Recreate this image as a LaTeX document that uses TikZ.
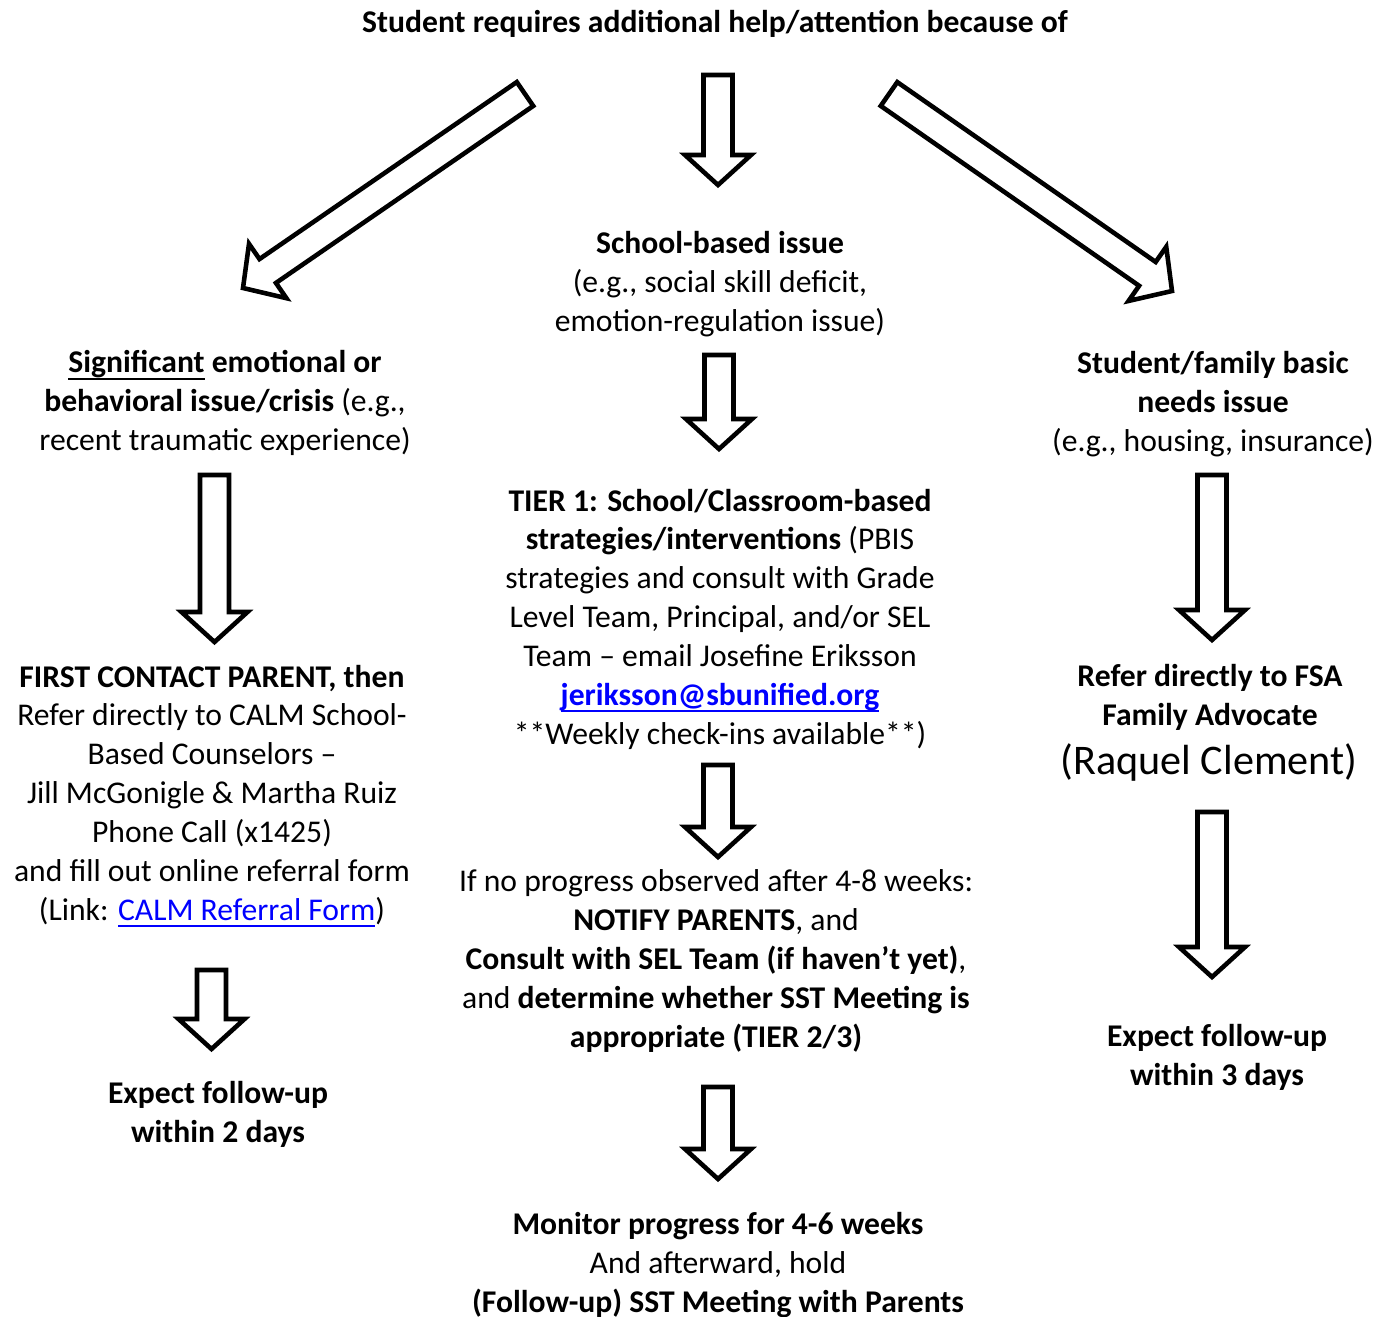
\documentclass[tikz,border=0pt]{standalone}
\usepackage{fontspec}
\setmainfont{Carlito}
\usetikzlibrary{calc}

\newcommand{\undl}[1]{\setbox0\hbox{#1}\rlap{\rule[-4pt]{\wd0}{1.1pt}}\box0\relax}
\newcommand{\hollowarrow}[2]{%
	\coordinate (s) at ($(#2)!0.6cm!(#1)$);
	\draw[hollow] ($(#1)!0.29cm!90:(#2)$) -- ($(s)!0.29cm!90:(#2)$) -- ($(s)!0.66cm!90:(#2)$) -- (#2)
		-- ($(s)!0.66cm!-90:(#2)$) -- ($(s)!0.29cm!-90:(#2)$) -- ($(#1)!0.29cm!-90:(#2)$) -- cycle;}

\begin{document}
\begin{tikzpicture}[x=0.02cm,y=-0.02cm,
	txt/.style={align=center,inner sep=0pt,font=\fontsize{18}{22.1}\selectfont},
	hollow/.style={draw=black,line width=2.6pt,fill=white,line join=miter}]
	\useasboundingbox (0,0) rectangle (1388,1316);

	\node[txt] (top) at (715,24) {\textbf{Student requires additional help/attention because of}};

	\node[txt] (school) at (720,284) {\textbf{School-based issue}\\(e.g., social skill deficit,\\emotion-regulation issue)};
	\node[txt] (tier1) at (720,619) {\textbf{TIER 1: School/Classroom-based}\\\textbf{strategies/interventions} (PBIS\\strategies and consult with Grade\\Level Team, Principal, and/or SEL\\Team – email Josefine Eriksson\\\textcolor{blue}{\textbf{\undl{jeriksson@sbunified.org}}}\\**Weekly check-ins available**)};
	\node[txt] (noprog) at (716,961) {If no progress observed after 4-8 weeks:\\\textbf{NOTIFY PARENTS}, and\\\textbf{Consult with SEL Team (if haven’t yet)},\\and \textbf{determine whether SST Meeting is}\\\textbf{appropriate (TIER 2/3)}};
	\node[txt] (monitor) at (718,1265) {\textbf{Monitor progress for 4-6 weeks}\\And afterward, hold\\\textbf{(Follow-up) SST Meeting with Parents}};

	\node[txt] (crisis) at (225,403) {\textbf{\undl{Significant} emotional or}\\\textbf{behavioral issue/crisis} (e.g.,\\recent traumatic experience)};
	\node[txt] (calm) at (212,796) {\textbf{FIRST CONTACT PARENT, then}\\Refer directly to CALM School-\\Based Counselors –\\Jill McGonigle \& Martha Ruiz\\Phone Call (x1425)\\and fill out online referral form\\(Link: \textcolor{blue}{\undl{CALM Referral Form}})};
	\node[txt] (two) at (218,1114) {\textbf{Expect follow-up}\\\textbf{within 2 days}};

	\node[txt] (needs) at (1213,404) {\textbf{Student/family basic}\\\textbf{needs issue}\\(e.g., housing, insurance)};
	\node[txt] (fsa) at (1210,697) {\textbf{Refer directly to FSA}\\\textbf{Family Advocate}};
	\node[txt,font=\fontsize{24}{29}\selectfont] (raquel) at (1209,762) {(Raquel Clement)};
	\node[txt] (three) at (1217,1057) {\textbf{Expect follow-up}\\\textbf{within 3 days}};

	% block arrows
	\coordinate (a1) at (525,94);   \coordinate (b1) at (243,288);
	\coordinate (a2) at (718,75);   \coordinate (b2) at (718,185);
	\coordinate (a3) at (889,94);   \coordinate (b3) at (1172,291);
	\coordinate (a4) at (719,355);  \coordinate (b4) at (719,449);
	\coordinate (a5) at (718,765);  \coordinate (b5) at (718,857);
	\coordinate (a6) at (718,1087); \coordinate (b6) at (718,1179);
	\coordinate (a7) at (214.5,475);\coordinate (b7) at (214.5,642);
	\coordinate (a8) at (211.5,970);\coordinate (b8) at (211.5,1049);
	\coordinate (a9) at (1212,475); \coordinate (b9) at (1212,640);
	\coordinate (a10) at (1212,812);\coordinate (b10) at (1212,977);

	\hollowarrow{a1}{b1}
	\hollowarrow{a2}{b2}
	\hollowarrow{a3}{b3}
	\hollowarrow{a4}{b4}
	\hollowarrow{a5}{b5}
	\hollowarrow{a6}{b6}
	\hollowarrow{a7}{b7}
	\hollowarrow{a8}{b8}
	\hollowarrow{a9}{b9}
	\hollowarrow{a10}{b10}

\end{tikzpicture}
\end{document}
